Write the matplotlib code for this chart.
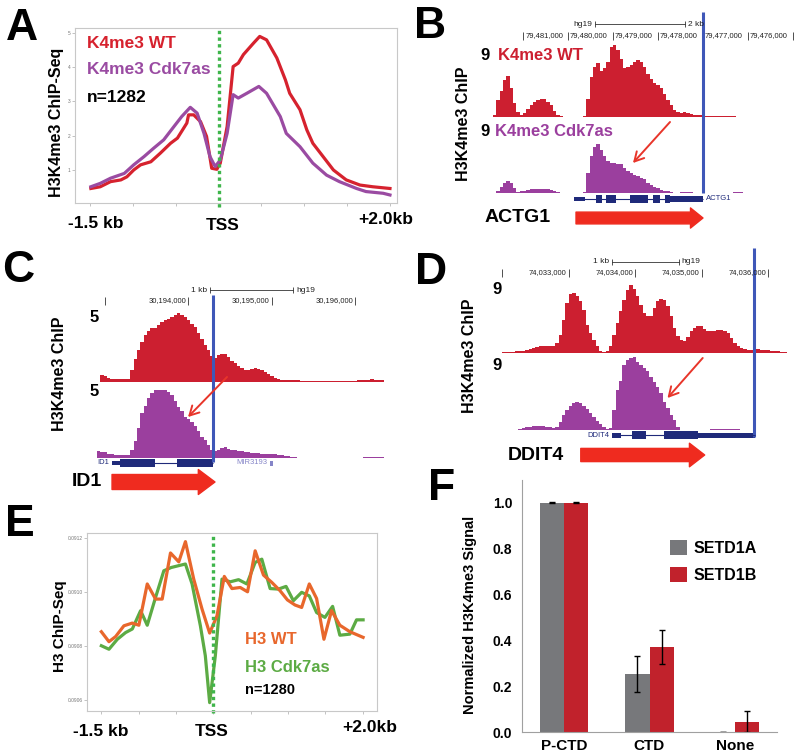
import numpy as np
import matplotlib.pyplot as plt
from matplotlib.patches import Rectangle

plt.rcParams["font.family"] = ["Liberation Sans", "DejaVu Sans"]

# ---- Panel A: H3K4me3 metagene (kb from TSS)
A_X_WT = [-1.49, -1.38, -1.26, -1.14, -1.07, -0.99, -0.91, -0.79, -0.68, -0.56, -0.48, -0.37,
          -0.35, -0.29, -0.21, -0.14, -0.08, -0.02, 0.02, 0.10, 0.17, 0.23, 0.29, 0.41, 0.48,
          0.56, 0.68, 0.78, 0.83, 0.95, 1.03, 1.10, 1.22, 1.34, 1.49, 1.65, 1.80, 2.0]
A_WT = [0.46, 0.51, 0.66, 0.71, 0.80, 1.0, 1.15, 1.24, 1.49, 1.78, 1.93, 2.37,
        2.61, 2.61, 2.41, 1.98, 1.05, 1.02, 1.2, 2.27, 4.02, 4.12, 4.37, 4.71, 4.90,
        4.80, 4.27, 3.63, 3.24, 2.76, 2.17, 1.78, 1.39, 1.0, 0.71, 0.56, 0.51, 0.46]
A_X_CDK = [-1.49, -1.38, -1.26, -1.10, -0.99, -0.87, -0.76, -0.64, -0.52, -0.43, -0.33, -0.25,
           -0.17, -0.10, -0.04, 0.02, 0.10, 0.17, 0.23, 0.33, 0.47, 0.56, 0.72, 0.79, 0.95,
           1.10, 1.26, 1.41, 1.61, 1.72, 1.92, 2.0]
A_CDK = [0.51, 0.61, 0.76, 0.90, 1.15, 1.39, 1.63, 1.88, 2.27, 2.56, 2.83, 2.66,
         2.07, 1.39, 1.10, 1.29, 2.07, 3.20, 3.10, 3.24, 3.44, 3.24, 2.56, 2.07, 1.68,
         1.20, 0.85, 0.66, 0.46, 0.37, 0.32, 0.27]

# ---- Panel B: ACTG1 browser tracks (chr17, kb, reverse display)
B_START, B_STEP = 79481.667, -0.0741
B_WT = [0.3, 2.1, 3.3, 4.6, 5.1, 3.6, 1.8, 0.6, 0.2, 0.5,
        1.0, 1.5, 1.9, 2.1, 2.2, 2.2, 1.9, 1.5, 0.8, 0.3,
        0.1, 0.05, 0, 0, 0, 0, 0, 0.1, 2.2, 5.0,
        6.3, 6.7, 5.7, 6.1, 6.9, 8.8, 9.0, 8.4, 7.3, 6.1,
        6.3, 6.5, 6.9, 7.1, 6.9, 6.3, 5.4, 4.8, 4.2, 4.0,
        3.6, 2.9, 2.1, 1.5, 0.9, 0.6, 0.5, 0.6, 0.5, 0.4,
        0.3, 0.3, 0.2, 0.15, 0.1, 0.1, 0.1, 0.1, 0.1, 0.15,
        0.1, 0.1, 0.1, 0.05, 0.05, 0.05, 0.05, 0.05, 0, 0,
        0, 0, 0.05, 0.05, 0.05, 0.05, 0.05, 0.05, 0.05, 0.05, 0.05, 0.05]
B_CDK = [0.05, 0.2, 0.8, 1.3, 1.5, 1.2, 0.6, 0.15, 0.2, 0.3,
         0.4, 0.45, 0.5, 0.5, 0.5, 0.5, 0.5, 0.4, 0.3, 0.15,
         0.05, 0, 0, 0.03, 0.03, 0.03, 0.03, 0.1, 2.5, 4.6,
         5.7, 6.1, 5.4, 4.6, 4.0, 3.8, 3.8, 3.6, 3.6, 3.1,
         2.7, 2.5, 2.3, 2.1, 1.9, 1.7, 1.3, 1.0, 0.8, 0.6,
         0.4, 0.3, 0.2, 0.1, 0.05, 0.05, 0.1, 0.15, 0.15, 0.1,
         0.05, 0.03, 0.03, 0.03, 0.03, 0.03, 0.03, 0.03, 0.03, 0.03,
         0.03, 0.03, 0.1, 0.1, 0.1, 0.03, 0.03, 0.03, 0.03, 0.03,
         0.03, 0.03, 0.03, 0.03, 0.03, 0.03, 0.03, 0.03, 0.03, 0.03, 0.03, 0.03]
B_TICKS = [79481, 79480, 79479, 79478, 79477, 79476, 79475]
B_TICK_LABELS = ["79,481,000", "79,480,000", "79,479,000", "79,478,000", "79,477,000", "79,476,000", ""]
B_EXONS = [(79479.622, 79479.867, 4), (79479.244, 79479.378, 8), (79478.933, 79479.156, 8),
           (79478.222, 79478.622, 8), (79477.956, 79478.111, 8), (79477.733, 79477.844, 8),
           (79477.0, 79477.733, 6)]

# ---- Panel C: ID1 (chr20, kb)
C_START, C_STEP = 30192.91, 0.0399
C_WT = [0, 0.5, 0.45, 0.3, 0.25, 0.25, 0.25, 0.25, 0.25, 0.25,
        0.85, 1.7, 2.3, 2.9, 3.4, 3.7, 3.9, 3.9, 4.1, 4.35,
        4.5, 4.6, 4.7, 4.85, 5.0, 4.85, 4.7, 4.5, 4.2, 3.95,
        3.55, 3.15, 2.65, 2.3, 1.85, 1.75, 1.95, 2.05, 2.0, 1.8,
        1.55, 1.35, 1.15, 1.0, 0.85, 0.9, 0.95, 1.0, 0.95, 0.9,
        0.7, 0.55, 0.4, 0.3, 0.25, 0.17, 0.12, 0.12, 0.15, 0.17,
        0.12, 0.1, 0.1, 0.08, 0.1, 0.1, 0.08, 0.08, 0.08, 0.07,
        0.07, 0.08, 0.08, 0.1, 0.1, 0.08, 0.08, 0.1, 0.12, 0.15,
        0.17, 0.18, 0.2, 0.18, 0.17, 0.17]
C_CDK = [0.5, 0.45, 0.4, 0.3, 0.27, 0.24, 0.24, 0.24, 0.24, 0.24,
         0.6, 1.2, 2.2, 3.25, 3.75, 4.35, 4.7, 4.9, 4.95, 4.95,
         4.9, 4.75, 4.6, 4.1, 3.7, 3.4, 3.0, 2.8, 2.6, 2.3,
         1.95, 1.55, 1.3, 0.95, 0.6, 0.5, 0.6, 0.72, 0.77, 0.68,
         0.6, 0.56, 0.52, 0.48, 0.45, 0.41, 0.38, 0.36, 0.33, 0.31,
         0.3, 0.29, 0.28, 0.27, 0.25, 0.22, 0.17, 0.12, 0.07, 0.05,
         0.03, 0.03, 0.03, 0.03, 0.03, 0.03, 0.03, 0.03, 0.03, 0.03,
         0.03, 0.03, 0.03, 0.03, 0.03, 0.03, 0.03, 0.03, 0.03, 0.03,
         0.05, 0.05, 0.05, 0.05, 0.05, 0.05]
C_TICKS = [30193, 30194, 30195, 30196]
C_TICK_LABELS = ["", "30,194,000", "30,195,000", "30,196,000"]
C_EXONS = [(30193.090, 30193.186, 4), (30193.186, 30193.605, 8), (30193.868, 30194.299, 8)]

# ---- Panel D: DDIT4 (chr10, kb)
D_START, D_STEP = 74031.889, 0.0505
D_WT = [0.02, 0.05, 0.07, 0.09, 0.12, 0.15, 0.22, 0.26, 0.3, 0.35,
        0.5, 0.66, 0.78, 0.88, 0.92, 0.97, 0.95, 0.88, 1.3, 2.4,
        4.4, 6.6, 7.7, 7.9, 7.45, 6.8, 5.7, 3.7, 2.6, 1.75,
        0.9, 0.2, 0.1, 0.2, 0.9, 2.4, 3.95, 5.5, 7.0, 8.35,
        9.0, 8.45, 7.45, 6.35, 5.25, 4.85, 4.9, 5.9, 6.8, 7.1,
        6.95, 6.15, 4.85, 3.3, 2.3, 1.75, 1.55, 2.1, 2.85, 3.3,
        3.6, 3.5, 3.15, 2.85, 2.95, 2.95, 3.0, 3.0, 2.95, 2.65,
        2.0, 1.3, 0.9, 0.65, 0.55, 0.45, 0.45, 0.5, 0.5, 0.45,
        0.45, 0.35, 0.3, 0.25, 0.2, 0.13, 0.09, 0.06, 0.04, 0.03]
D_CDK = [0, 0, 0, 0, 0, 0, 0, 0.1, 0.25, 0.35,
         0.45, 0.53, 0.55, 0.57, 0.5, 0.44, 0.35, 0.3, 0.44, 1.1,
         2.0, 2.6, 3.15, 3.6, 3.75, 3.5, 3.15, 2.7, 2.2, 1.75,
         1.25, 0.8, 0.45, 0.15, 0.2, 2.6, 5.3, 6.4, 8.55, 9.2,
         9.45, 9.65, 9.0, 8.55, 8.1, 7.7, 7.0, 6.35, 5.7, 4.85,
         3.75, 2.85, 2.0, 1.3, 0.45, 0, 0, 0, 0, 0,
         0, 0, 0, 0.05, 0.08, 0.1, 0.13, 0.1, 0.13, 0.1,
         0.08, 0.08, 0.08, 0.06, 0.05, 0, 0, 0, 0, 0,
         0.03, 0.03, 0.03, 0.03, 0.03, 0.03, 0.03, 0.03, 0.03, 0.03]
D_TICKS = [74032, 74033, 74034, 74035, 74036]
D_TICK_LABELS = ["", "74,033,000", "74,034,000", "74,035,000", "74,036,000"]
D_EXONS = [(74033.652, 74033.788, 5), (74033.955, 74034.167, 8), (74034.439, 74034.939, 8),
           (74034.939, 74035.803, 5)]

# ---- Panel E: H3 metagene
E_X_WT = [-1.498, -1.396, -1.307, -1.196, -1.084, -0.996, -0.884, -0.773, -0.684, -0.573, -0.462,
          -0.373, -0.262, -0.151, -0.049, 0.049, 0.147, 0.249, 0.360, 0.458, 0.560, 0.671, 0.782,
          0.893, 0.991, 1.093, 1.182, 1.284, 1.382, 1.480, 1.582, 1.693, 1.827, 2.004]
E_WT = [0.090854, 0.090817, 0.090836, 0.090876, 0.090886, 0.090878, 0.091031, 0.090975, 0.090975,
        0.091146, 0.091113, 0.091188, 0.091049, 0.090938, 0.090849, 0.090913, 0.091059, 0.091014,
        0.091018, 0.091002, 0.091154, 0.091064, 0.091037, 0.091006, 0.090972, 0.090953, 0.090944,
        0.091031, 0.090977, 0.090826, 0.090932, 0.090878, 0.090854, 0.090833]
E_X_CDK = [-1.498, -1.396, -1.284, -1.173, -1.084, -0.973, -0.884, -0.773, -0.662, -0.564, -0.462,
           -0.373, -0.284, -0.173, -0.107, -0.049, 0.027, 0.116, 0.227, 0.338, 0.449, 0.560, 0.649,
           0.760, 0.871, 0.973, 1.071, 1.182, 1.284, 1.382, 1.493, 1.596, 1.693, 1.827, 1.916, 2.004]
E_CDK = [0.090802, 0.090789, 0.090826, 0.090851, 0.090864, 0.090932, 0.090878, 0.090981, 0.091080,
         0.091092, 0.091099, 0.091105, 0.091031, 0.090876, 0.090765, 0.090591, 0.090765, 0.091049,
         0.091039, 0.091047, 0.091031, 0.091111, 0.091123, 0.091014, 0.091012, 0.091022, 0.090969,
         0.091000, 0.090987, 0.090925, 0.090907, 0.090948, 0.090841, 0.090845, 0.090898, 0.090898]

# ---- Panel F: normalized H3K4me3 signal
F_CATS = ["P-CTD", "CTD", "None"]
F_SETD1A = [1.0, 0.252, 0.002]
F_SETD1A_ERR = [0.002, 0.078, 0.0]
F_SETD1B = [1.0, 0.371, 0.045]
F_SETD1B_ERR = [0.002, 0.073, 0.045]

RED = "#d6222e"
PURPLE = "#9a4ba2"
TRACK_RED = "#cc1f30"
TRACK_PURPLE = "#9b3f9e"
TSS_GREEN = "#3fb54b"
BLUE = "#3f57b8"
NAVY = "#1f2a7a"
BIG_ARROW = "#ef2b1f"
THIN_ARROW = "#e8352a"
ORANGE = "#e8672c"
GREEN = "#5cab44"
BAR_GRAY = "#77787b"
BAR_RED = "#c1222c"

W, H = 800, 756
fig = plt.figure(figsize=(8, 7.56), dpi=100)


def add_ax(x0, y0, x1, y1):
    # rectangle given in image pixels, origin top-left
    return fig.add_axes([x0 / W, 1 - y1 / H, (x1 - x0) / W, (y1 - y0) / H])


def profile_axes(ax):
    for s in ax.spines.values():
        s.set_color("#c8c8c8")
        s.set_linewidth(0.8)
    ax.set_xticks(np.arange(-1.5, 2.01, 0.5))
    ax.set_xticklabels([])
    ax.tick_params(length=2, width=0.5, color="#aaaaaa", labelsize=3.5, labelcolor="#777777", pad=1)


def add_track(x0, x1, base, px_per_unit, xlim, start, step, values, color):
    ax = add_ax(x0, base - 80, x1, base)
    centers = start + step * (np.arange(len(values)) + 0.5)
    ax.bar(centers, values, width=abs(step) * 1.03, color=color, linewidth=0)
    ax.set_xlim(*xlim)
    ax.set_ylim(0, 80 / px_per_unit)
    ax.axis("off")
    return ax


def add_panel(x0, y0, x1, y1, xlim):
    ax = add_ax(x0, y0, x1, y1)
    ax.set_xlim(*xlim)
    ax.set_ylim(y1, y0)
    ax.axis("off")
    return ax


def ruler(ax, ticks, labels, y, label_side):
    ax.vlines(ticks, y - 4, y + 4, color="#333333", lw=0.6)
    off, ha = (1.5, "left") if label_side == "right" else (-1.5, "right")
    for t, lab in zip(ticks, labels):
        if lab:
            ax.annotate(lab, (t, y), xytext=(off, 0), textcoords="offset points",
                        ha=ha, va="center", fontsize=5.5, color="#222222")


def scale_bar(ax, a, b, y, left_text, right_text):
    ax.plot([a, b], [y, y], color="#333333", lw=0.6)
    ax.vlines([a, b], y - 3, y + 3, color="#333333", lw=0.6)
    ax.annotate(left_text, (a, y), xytext=(-2, 0), textcoords="offset points",
                ha="right", va="center", fontsize=6, color="#222222")
    ax.annotate(right_text, (b, y), xytext=(2, 0), textcoords="offset points",
                ha="left", va="center", fontsize=6, color="#222222")


def gene_model(ax, y, lo, hi, exons, name, name_x, name_side):
    ax.hlines(y, lo, hi, color=NAVY, lw=0.8)
    for a, b, h in exons:
        ax.add_patch(Rectangle((min(a, b), y - h / 2), abs(b - a), h, color=NAVY, lw=0))
    off, ha = (2, "left") if name_side == "right" else (-2, "right")
    ax.annotate(name, (name_x, y), xytext=(off, 0), textcoords="offset points",
                ha=ha, va="center", fontsize=5.5, color=NAVY)


def fat_arrow(ax, a, b, y, tail, head_w, head_l):
    style = f"simple,head_width={head_w},head_length={head_l},tail_width={tail}"
    ax.annotate("", xy=(b, y), xytext=(a, y),
                arrowprops=dict(arrowstyle=style, color=BIG_ARROW, shrinkA=0, shrinkB=0,
                                mutation_scale=10))


def thin_arrow(ax, a, b):
    ax.annotate("", xy=b, xytext=a,
                arrowprops=dict(arrowstyle="->,head_length=0.55,head_width=0.3", color=THIN_ARROW,
                                lw=1.4, shrinkA=0, shrinkB=0, mutation_scale=12))


# ---------------- A
ax = add_ax(75, 28, 397, 203)
ax.plot(A_X_WT, A_WT, color=RED, lw=2.3)
ax.plot(A_X_CDK, A_CDK, color=PURPLE, lw=2.3)
ax.axvline(0, ymin=-0.025, ymax=1.0, color=TSS_GREEN, lw=2.4, ls=(0, (1, 1)), clip_on=False)
ax.set_xlim(-1.675, 2.082)
ax.set_ylim(0.036, 5.146)
profile_axes(ax)
ax.set_yticks([1, 2, 3, 4, 5])

# ---------------- B
xl = (B_START, 79474.844)
add_track(493, 800, 117, 8.0, xl, B_START, B_STEP, B_WT, TRACK_RED)
add_track(493, 800, 193, 8.0, xl, B_START, B_STEP, B_CDK, TRACK_PURPLE)
pb = add_panel(493, 8, 800, 232, xl)
ruler(pb, B_TICKS, B_TICK_LABELS, 35.5, "right")
scale_bar(pb, 79479.4, 79477.4, 24, "hg19", "2 kb")
pb.vlines(79477.0, 12, 193, color=BLUE, lw=2.2)
gene_model(pb, 199, 79479.867, 79477.0, B_EXONS, "ACTG1", 79477.0, "right")
fat_arrow(pb, 79479.822, 79477.0, 218, 0.85, 1.45, 0.9)
thin_arrow(pb, (79477.733, 122), (79478.556, 163))

# ---------------- C
xl = (C_START, 30196.347)
add_track(97, 384, 382, 13.8, xl, C_START, C_STEP, C_WT, TRACK_RED)
add_track(97, 384, 458, 13.8, xl, C_START, C_STEP, C_CDK, TRACK_PURPLE)
pc = add_panel(97, 282, 384, 495, xl)
ruler(pc, C_TICKS, C_TICK_LABELS, 301, "left")
scale_bar(pc, 30194.263, 30195.263, 290, "1 kb", "hg19")
pc.vlines(30194.30, 295, 462, color=BLUE, lw=2.2)
gene_model(pc, 463, 30193.090, 30194.299, C_EXONS, "ID1", 30193.090, "left")
pc.add_patch(Rectangle((30194.982, 460.5), 0.036, 5, color="#8585c8", lw=0))
pc.annotate("MIR3193", (30194.982, 463), xytext=(-2, 0), textcoords="offset points",
            ha="right", va="center", fontsize=5.5, color="#8585c8")
fat_arrow(pc, 30193.090, 30194.323, 482, 1.08, 1.8, 1.2)
thin_arrow(pc, (30194.467, 377), (30194.0, 417))

# ---------------- D
xl = (D_START, 74036.389)
add_track(495, 794, 353, 7.6, xl, D_START, D_STEP, D_WT, TRACK_RED)
add_track(495, 794, 430, 7.6, xl, D_START, D_STEP, D_CDK, TRACK_PURPLE)
pd_ = add_panel(495, 245, 794, 472, xl)
ruler(pd_, D_TICKS, D_TICK_LABELS, 273, "left")
scale_bar(pd_, 74033.652, 74034.652, 262, "1 kb", "hg19")
pd_.vlines(74035.78, 248, 437, color=BLUE, lw=2.2)
gene_model(pd_, 435, 74033.652, 74035.803, D_EXONS, "DDIT4", 74033.652, "left")
fat_arrow(pd_, 74033.18, 74035.045, 455, 0.95, 1.7, 1.1)
thin_arrow(pd_, (74035.015, 358), (74034.485, 398))

# ---------------- E
ax = add_ax(87, 533, 377, 711)
ax.plot(E_X_CDK, E_CDK, color=GREEN, lw=2.3)
ax.plot(E_X_WT, E_WT, color=ORANGE, lw=2.3)
ax.axvline(0, ymin=-0.01, ymax=1.0, color=TSS_GREEN, lw=2.4, ls=(0, (1, 1)), clip_on=False)
ax.set_xlim(-1.69, 2.19)
ax.set_ylim(0.09056, 0.09122)
profile_axes(ax)
ax.set_yticks([0.0906, 0.0908, 0.0910, 0.0912])
ax.set_yticklabels(["0.0906", "0.0908", "0.0910", "0.0912"])

# ---------------- F
axf = add_ax(522, 480, 777, 732)
xf = np.arange(len(F_CATS))
w = 0.285
ekw = dict(lw=1, capsize=2, capthick=1, ecolor="black")
axf.bar(xf - w / 2, F_SETD1A, w, yerr=F_SETD1A_ERR, color=BAR_GRAY, error_kw=ekw, label="SETD1A")
axf.bar(xf + w / 2, F_SETD1B, w, yerr=F_SETD1B_ERR, color=BAR_RED, error_kw=ekw, label="SETD1B")
axf.set_xlim(-0.49, 2.49)
axf.set_ylim(0, 1.1)
axf.set_yticks(np.arange(0, 1.01, 0.2))
axf.set_yticklabels([f"{v:.1f}" for v in np.arange(0, 1.01, 0.2)], fontweight="bold", fontsize=10)
axf.set_xticks(xf)
axf.set_xticklabels(F_CATS, fontweight="bold", fontsize=11)
axf.tick_params(axis="y", length=0, pad=7)
axf.tick_params(axis="x", length=0, pad=5)
for s in ["top", "right"]:
    axf.spines[s].set_visible(False)
for s in ["left", "bottom"]:
    axf.spines[s].set_color("#a0a0a0")
    axf.spines[s].set_linewidth(0.8)
axf.legend(loc="upper left", bbox_to_anchor=(0.58, 0.762), frameon=False,
           prop=dict(weight="bold", size=11.5), handlelength=1.05, handleheight=1.05,
           handletextpad=0.4, labelspacing=0.7, borderpad=0, borderaxespad=0)

# ---------------- text overlay (image pixel coordinates)
ov = add_ax(0, 0, 800, 756)
ov.set_xlim(0, 800)
ov.set_ylim(756, 0)
ov.axis("off")


def label(x, y, s, size, color="black", ha="left", rot=0):
    ov.text(x, y, s, fontsize=size, color=color, fontweight="bold", ha=ha, va="center",
            rotation=rot)


for letter, (lx, ly) in zip("ABCDEF", [(22, 28), (430, 26), (18, 270), (431, 272), (20, 525), (442, 489)]):
    label(lx, ly, letter, 32, ha="center")

label(87, 43, "K4me3 WT", 12.5, RED)
label(87, 70, "K4me3 Cdk7as", 12.5, PURPLE)
label(87, 98, "n=1282", 12.5)
label(96, 224, "-1.5 kb", 12.5, ha="center")
label(223, 225, "TSS", 12.5, ha="center")
label(358, 220, "+2.0kb", 12.5)
label(57, 122, "H3K4me3 ChIP-Seq", 11.5, ha="center", rot=90)

label(480, 55, "9", 12)
label(498, 55, "K4me3 WT", 12, TRACK_RED)
label(480, 131, "9", 12)
label(495, 131, "K4me3 Cdk7as", 12, TRACK_PURPLE)
label(463, 124, "H3K4me3 ChIP", 11.5, ha="center", rot=90)
label(485, 218, "ACTG1", 14)

label(90, 318, "5", 12)
label(90, 392, "5", 12)
label(60, 374, "H3K4me3 ChIP", 11.5, ha="center", rot=90)
label(72, 482, "ID1", 14)

label(492, 290, "9", 12)
label(492, 365, "9", 12)
label(470, 356, "H3K4me3 ChIP", 11.5, ha="center", rot=90)
label(508, 455, "DDIT4", 14)

label(245, 640, "H3 WT", 12, ORANGE)
label(245, 667, "H3 Cdk7as", 12, GREEN)
label(245, 690, "n=1280", 10.5)
label(101, 732, "-1.5 kb", 12.5, ha="center")
label(212, 732, "TSS", 12.5, ha="center")
label(370, 727, "+2.0kb", 12.5, ha="center")
label(60, 626, "H3 ChIP-Seq", 11, ha="center", rot=90)
label(470, 615, "Normalized H3K4me3 Signal", 10.5, ha="center", rot=90)

fig.savefig("out.png", dpi=100)
